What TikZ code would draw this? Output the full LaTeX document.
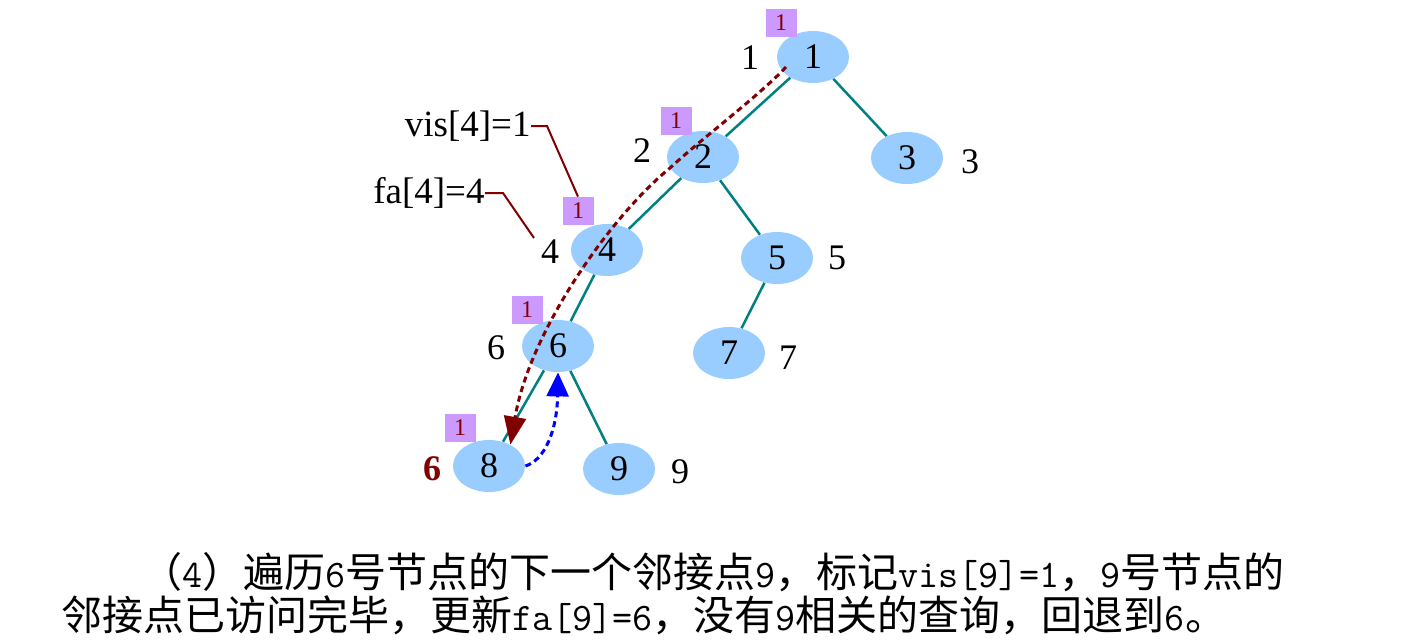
\documentclass[tikz,border=0pt]{standalone}
\usepackage{fontspec}
\setmainfont{Liberation Serif}
\newfontfamily\cjk{Noto Sans CJK SC}
\usetikzlibrary{arrows.meta,shapes.geometric}
\definecolor{nodeblue}{HTML}{99CCFF}
\definecolor{markpurple}{HTML}{CC99FF}
\definecolor{darkred}{HTML}{800000}
\definecolor{edgeteal}{HTML}{008080}
\definecolor{arrowblue}{HTML}{0000FF}
\newcommand\lat[1]{{\fontsize{19.5}{20}\ttfamily #1}}
\begin{document}
\begin{tikzpicture}[x=0.5pt,y=-0.5pt,
  vert/.style={ellipse, fill=nodeblue, minimum width=36pt, minimum height=26pt, inner sep=0pt, font=\fontsize{18}{18}\selectfont},
  idx/.style={inner sep=1pt, font=\fontsize{18}{18}\selectfont},
  visbox/.style={fill=markpurple, minimum width=15.5pt, minimum height=14pt, inner sep=0pt, text=darkred, font=\fontsize{12}{12}\selectfont},
  treeedge/.style={draw=edgeteal, line width=1.25pt},
  callout/.style={draw=darkred, line width=1pt},
  ann/.style={inner sep=0pt, font=\fontsize{18.5}{18.5}\selectfont},
  walk/.style={draw=darkred, line width=1.5pt, dash pattern=on 3pt off 2pt, -{Triangle[length=14pt,width=11pt]}},
  back/.style={draw=arrowblue, line width=1.5pt, dash pattern=on 3pt off 2pt, -{Triangle[length=12pt,width=11pt]}},
  captext/.style={anchor=base west, inner sep=0pt, font=\cjk\fontsize{20.5}{20.5}\selectfont}
]
\useasboundingbox (0,0) rectangle (1403,643);

% tree nodes
\node[vert] (n1) at (813,57) {1};
\node[vert] (n2) at (703,157) {2};
\node[vert] (n3) at (907,158) {3};
\node[vert] (n4) at (607,250) {4};
\node[vert] (n5) at (777,258) {5};
\node[vert] (n6) at (558,346) {6};
\node[vert] (n7) at (729,353) {7};
\node[vert] (n8) at (489,466) {8};
\node[vert] (n9) at (619,469) {9};

% tree edges
\draw[treeedge] (n1) -- (n2);
\draw[treeedge] (n1) -- (n3);
\draw[treeedge] (n2) -- (n4);
\draw[treeedge] (n2) -- (n5);
\draw[treeedge] (n4) -- (n6);
\draw[treeedge] (n5) -- (n7);
\draw[treeedge] (n6) -- (n8);
\draw[treeedge] (n6) -- (n9);

% outside labels
\node[idx] (l1) at (750,58) {1};
\node[idx] (l2) at (642,151) {2};
\node[idx] (l3) at (970,162) {3};
\node[idx] (l4) at (550,252) {4};
\node[idx] (l5) at (837,258) {5};
\node[idx] (l6) at (496,348) {6};
\node[idx] (l7) at (788,358) {7};
\node[idx, text=darkred, font=\fontsize{18}{18}\selectfont\bfseries] (l8) at (432,469) {6};
\node[idx] (l9) at (680,472) {9};

% visited marks
\node[visbox] (b1) at (781,23) {1};
\node[visbox] (b2) at (676,121) {1};
\node[visbox] (b4) at (578,211) {1};
\node[visbox] (b6) at (527,310) {1};
\node[visbox] (b8) at (460,428) {1};

% annotations
\node[ann, anchor=east] (vis4) at (531,126) {vis[4]=1};
\node[ann, anchor=east] (fa4) at (485,193) {fa[4]=4};
\coordinate (fatip) at (534,238);
\draw[callout] (vis4.east) -- ++(16,0) -- (b4.north);
\draw[callout] (fa4.east) -- ++(18,0) -- (fatip);

% traversal paths
\coordinate (w0) at (786,67);
\coordinate (w1) at (670,168);
\draw[walk] (w0) .. controls (760,95) and (700,140) .. (w1) .. controls (612,215) and (530,330) .. (n8.45);
\draw[back] (n8.east) .. controls (545,460) and (557,430) .. (n6.south);

% caption
\node[captext] (cap1) at (141,587) {（\lat{4}）遍历\lat{6}号节点的下一个邻接点\lat{9}，标记\lat{vis[9]=1}，\lat{9}号节点的};
\node[captext] (cap2) at (61,630) {邻接点已访问完毕，更新\lat{fa[9]=6}，没有\lat{9}相关的查询，回退到\lat{6}。};
\end{tikzpicture}
\end{document}
